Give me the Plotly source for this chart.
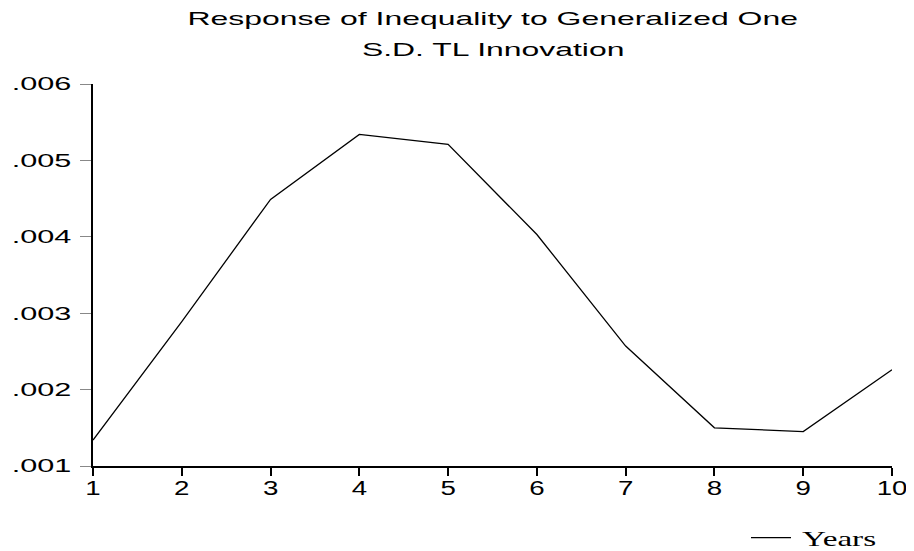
import plotly.graph_objects as go

years = [1, 2, 3, 4, 5, 6, 7, 8, 9, 10]
response = [0.00134, 0.00289, 0.00449, 0.00534, 0.00521, 0.00403, 0.00257, 0.00150, 0.00145, 0.00226]
y_ticks = [0.001, 0.002, 0.003, 0.004, 0.005, 0.006]
y_tick_labels = [".001", ".002", ".003", ".004", ".005", ".006"]
x_ticks = [1, 2, 3, 4, 5, 6, 7, 8, 9, 10]
title_lines = ["Response of Inequality to Generalized One", "S.D. TL Innovation"]
series_name = "Years"

SANS = "Liberation Sans, Arial, sans-serif"
SERIF = "Liberation Serif, Times New Roman, serif"

# plot area in page pixels: x 93..892, y 84..466 (figure sits at 8px body offset)
PL, PW, PT, PH = 93, 799, 84, 382


def py(page_y):
    return 1 + (PT - page_y) / PH


fig = go.Figure()
fig.add_trace(go.Scatter(
    x=years, y=response, mode="lines", name=series_name,
    line=dict(color="black", width=1.3), showlegend=True,
))

title_centers = [19, 50]
for txt, yc in zip(title_lines, title_centers):
    fig.add_annotation(
        text=txt, xref="paper", yref="paper",
        x=0.5, y=py(yc), xanchor="center", yanchor="middle", showarrow=False,
        font=dict(size=19, family=SANS, color="black"),
    )

fig.update_layout(
    width=906, height=543,
    paper_bgcolor="white", plot_bgcolor="white",
    margin=dict(l=85, r=22, t=76, b=85, autoexpand=False),
    font=dict(family=SANS, color="black"),
    showlegend=True,
    legend=dict(
        x=(746 - PL) / PW, xanchor="left", y=py(538), yanchor="middle",
        font=dict(family=SERIF, size=21, color="black"),
        bgcolor="rgba(0,0,0,0)", itemwidth=40,
    ),
    xaxis=dict(
        range=[1, 10], tickvals=x_ticks, ticktext=[str(v) for v in x_ticks],
        showline=True, linecolor="black", linewidth=1.5, mirror=False,
        ticks="outside", ticklen=8, tickcolor="black", tickwidth=1.5,
        showgrid=False, zeroline=False,
        tickfont=dict(size=20, family=SANS, color="black"),
        ticklabelstandoff=-5,
    ),
    yaxis=dict(
        range=[0.001, 0.006], tickvals=y_ticks, ticktext=y_tick_labels,
        showline=True, linecolor="black", linewidth=2,
        ticks="outside", ticklen=11, tickcolor="#888888", tickwidth=1.2,
        showgrid=False, zeroline=False,
        tickfont=dict(size=18, family=SANS, color="black"),
        ticklabelstandoff=5,
    ),
)

# The reference's lettering is horizontally stretched; widen glyphs to match.
post_js = """
var gd = document.getElementById('{plot_id}');
function stretchText() {
  var rules = [['.ytick text', 1.7, 0], ['.xtick text', 1.38, 0],
               ['text.annotation-text', 1.68, 0], ['text.legendtext', 1.58, 6]];
  rules.forEach(function (r) {
    gd.querySelectorAll(r[0]).forEach(function (t) {
      if (t.getAttribute('data-stretched')) return;
      var w = t.getComputedTextLength();
      if (!w) return;
      t.setAttribute('textLength', (w * r[1]).toFixed(1));
      t.setAttribute('lengthAdjust', 'spacingAndGlyphs');
      if (r[2]) {
        var x0 = parseFloat(t.getAttribute('x') || '0');
        t.setAttribute('x', x0 + r[2]);
      }
      t.setAttribute('data-stretched', '1');
    });
  });
  gd.querySelectorAll('.legend [clip-path]').forEach(function (e) {
    e.removeAttribute('clip-path');
  });
  gd.querySelectorAll('.legend').forEach(function (e) {
    e.style.overflow = 'visible';
  });
}
stretchText();
setTimeout(stretchText, 0);
gd.on('plotly_afterplot', function () { setTimeout(stretchText, 0); });
"""

fig.write_html("out.html", post_script=post_js)
